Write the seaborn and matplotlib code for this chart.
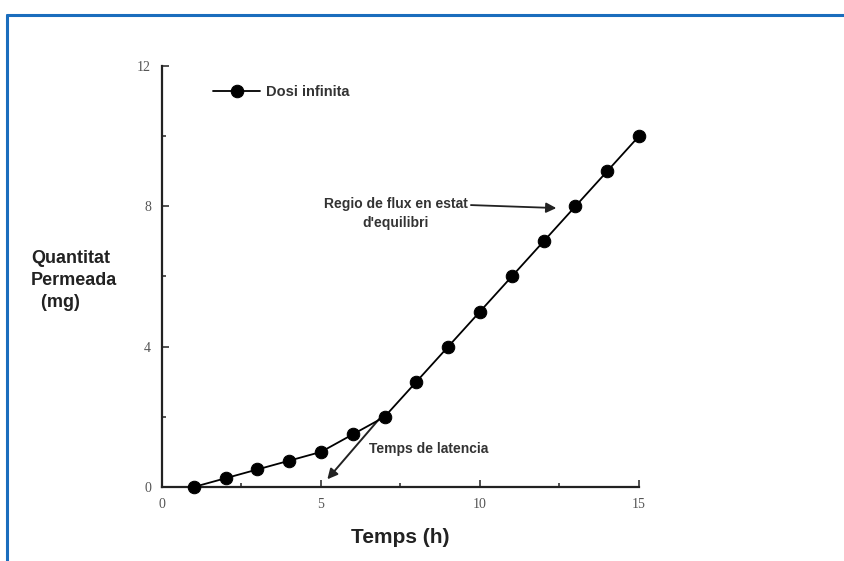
import matplotlib
matplotlib.use("Agg")
import matplotlib.pyplot as plt
import seaborn as sns
import pandas as pd
from matplotlib.lines import Line2D
from matplotlib.ticker import MultipleLocator

# dades llegides del gràfic
temps = [1, 2, 3, 4, 5, 6, 7, 8, 9, 10, 11, 12, 13, 14, 15]
quantitat = [0, 0.25, 0.5, 0.75, 1.0, 1.5, 2.0, 3, 4, 5, 6, 7, 8, 9, 10]
x_ticks = [0, 5, 10, 15]
y_ticks = [0, 4, 8, 12]

df = pd.DataFrame({'temps': temps, 'quantitat': quantitat})

sns.set_style('white')
plt.rcParams['font.family'] = ['Liberation Sans', 'DejaVu Sans']

fig = plt.figure(figsize=(8.45, 5.61), dpi=100)
ax = fig.add_axes([0.1917, 0.1319, 0.5645, 0.7505])

sns.lineplot(data=df, x='temps', y='quantitat', ax=ax, color='black',
             marker='o', markersize=9, markeredgecolor='black', linewidth=1.3,
             label='Dosi infinita', clip_on=False, zorder=5)

ax.set_xlim(0, 15)
ax.set_ylim(0, 12)
ax.set_xticks(x_ticks)
ax.set_yticks(y_ticks)
ax.xaxis.set_minor_locator(MultipleLocator(2.5))
ax.yaxis.set_minor_locator(MultipleLocator(2))
ax.tick_params(which='both', direction='in', bottom=True, left=True, length=5, width=1.2,
               colors='#333333', labelcolor='#555555', labelsize=10, pad=8)
ax.tick_params(which='minor', length=3)
for lbl in ax.get_xticklabels() + ax.get_yticklabels():
    lbl.set_family(['Liberation Serif', 'DejaVu Serif'])

sns.despine(ax=ax)
for s in ['left', 'bottom']:
    ax.spines[s].set_linewidth(1.6)
    ax.spines[s].set_color('#222222')

ax.set_xlabel('Temps (h)', fontsize=15, fontweight='bold', color='#222222', labelpad=12)
ax.set_ylabel('')
fig.text(0.088, 0.50, 'Quantitat\nPermeada\n  (mg)', fontsize=13, fontweight='bold',
         color='#222222', ha='center', va='center', linespacing=1.4, ma='left')

leg = ax.legend(loc='upper left', bbox_to_anchor=(0.08, 0.985), frameon=False,
                handlelength=3.2, handletextpad=0.4, fontsize=10.5)
for t in leg.get_texts():
    t.set_fontweight('bold')
    t.set_color('#333333')

ax.annotate('Regio de flux en estat\nd\'equilibri', xy=(12.4, 7.95), xytext=(7.35, 7.8),
            ha='center', va='center', fontsize=10, fontweight='bold', color='#333333',
            linespacing=1.5,
            arrowprops=dict(arrowstyle='-|>,head_length=0.6,head_width=0.3', color='#222222',
                            lw=1.3, shrinkA=0, shrinkB=0, relpos=(1.0, 0.75)))
ax.annotate('', xy=(5.2, 0.22), xytext=(6.86, 1.97),
            arrowprops=dict(arrowstyle='-|>,head_length=0.6,head_width=0.3', color='#222222',
                            lw=1.4, shrinkA=0, shrinkB=0))
ax.text(6.5, 1.08, 'Temps de latencia', fontsize=10, fontweight='bold', color='#333333',
        ha='left', va='center')

# marc blau
blue = '#1a6dbd'
fig.add_artist(Line2D([7 / 845, 1.0], [1 - 15 / 561, 1 - 15 / 561], color=blue, lw=2.2,
                      transform=fig.transFigure))
fig.add_artist(Line2D([7 / 845, 7 / 845], [0, 1 - 15 / 561], color=blue, lw=2.2,
                      transform=fig.transFigure))

fig.savefig('out.png', dpi=100, facecolor='white')
